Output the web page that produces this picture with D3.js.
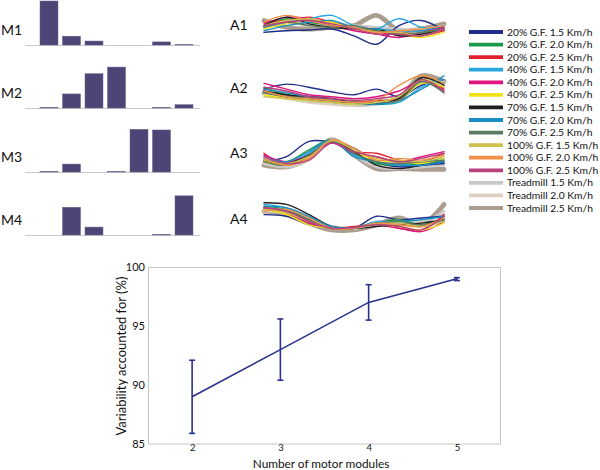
<!DOCTYPE html>
<html><head><meta charset="utf-8">
<script src="https://cdn.jsdelivr.net/npm/d3@7"></script>
<style>body{margin:0;background:#fff} text{font-family:Lato,"Open Sans",sans-serif;fill:#111}</style>
</head><body><svg id="c" width="600" height="470"></svg>
<script>
// ---------- data ----------
const moduleNames = ["M1","M2","M3","M4"];
const barSlots = [1,2,3,4,5,6,7];
const M1 = [1.00, 0.20, 0.09, 0.00, 0.00, 0.07, 0.01];
const M2 = [0.01, 0.32, 0.78, 0.93, 0.00, 0.01, 0.075];
const M3 = [0.01, 0.18, 0.00, 0.01, 0.97, 0.955, 0.00];
const M4 = [0.00, 0.63, 0.18, 0.00, 0.00, 0.01, 0.89];

const activationNames = ["A1","A2","A3","A4"];
const cyclePct = [0,12.5,25,37.5,50,62.5,75,87.5,100];
const conditions = ["20% G.F. 1.5 Km/h","20% G.F. 2.0 Km/h","20% G.F. 2.5 Km/h","40% G.F. 1.5 Km/h","40% G.F. 2.0 Km/h","40% G.F. 2.5 Km/h","70% G.F. 1.5 Km/h","70% G.F. 2.0 Km/h","70% G.F. 2.5 Km/h","100% G.F. 1.5 Km/h","100% G.F. 2.0 Km/h","100% G.F. 2.5 Km/h","Treadmill 1.5 Km/h","Treadmill 2.0 Km/h","Treadmill 2.5 Km/h"];
const conditionColors = ["#1f2d8a","#1a9a4a","#e3202c","#29a8e0","#e0157f","#f3e21c","#231f20","#1b8fc4","#5b7b5f","#cdc24c","#f0914a","#b6437e","#c9c9c9","#ddd0c0","#ab9e8f"];

const A1 = [
 [0.40,0.45,0.47,0.50,0.30,0.05,0.60,0.75,0.45],
 [0.60,0.80,0.70,0.60,0.50,0.45,0.40,0.35,0.50],
 [0.70,0.75,0.85,0.70,0.55,0.35,0.40,0.30,0.45],
 [0.55,0.70,0.80,0.90,0.60,0.50,0.80,0.55,0.50],
 [0.65,0.85,0.80,0.60,0.45,0.35,0.25,0.40,0.55],
 [0.50,0.65,0.75,0.70,0.50,0.45,0.35,0.25,0.40],
 [0.60,0.85,0.65,0.55,0.50,0.50,0.30,0.35,0.50],
 [0.45,0.60,0.70,0.75,0.55,0.50,0.45,0.45,0.60],
 [0.55,0.70,0.60,0.55,0.60,0.45,0.35,0.40,0.50],
 [0.60,0.75,0.80,0.65,0.50,0.40,0.40,0.30,0.50],
 [0.70,0.90,0.75,0.60,0.55,0.40,0.45,0.50,0.60],
 [0.60,0.70,0.75,0.65,0.50,0.35,0.35,0.30,0.50],
 [0.55,0.75,0.60,0.65,0.60,0.55,0.50,0.45,0.60],
 [0.60,0.80,0.70,0.60,0.55,0.50,0.45,0.50,0.55],
 [0.75,0.55,0.50,0.55,0.60,0.90,0.45,0.50,0.65]
];
const A2 = [
 [0.55,0.68,0.60,0.48,0.40,0.55,0.35,0.65,0.80],
 [0.60,0.40,0.30,0.25,0.20,0.20,0.35,0.85,0.70],
 [0.50,0.35,0.30,0.20,0.20,0.25,0.30,0.80,0.55],
 [0.45,0.35,0.25,0.20,0.15,0.15,0.20,0.60,0.80],
 [0.70,0.55,0.40,0.35,0.30,0.35,0.50,0.75,0.50],
 [0.40,0.30,0.25,0.20,0.15,0.20,0.25,0.70,0.60],
 [0.50,0.40,0.35,0.30,0.20,0.15,0.30,0.85,0.65],
 [0.55,0.45,0.35,0.25,0.20,0.15,0.25,0.55,0.90],
 [0.45,0.35,0.30,0.25,0.20,0.20,0.25,0.75,0.45],
 [0.35,0.30,0.25,0.20,0.15,0.20,0.35,0.80,0.60],
 [0.50,0.35,0.30,0.25,0.20,0.25,0.65,0.90,0.70],
 [0.60,0.50,0.35,0.30,0.25,0.30,0.40,0.80,0.50],
 [0.55,0.45,0.35,0.30,0.25,0.25,0.30,0.70,0.75],
 [0.40,0.30,0.20,0.15,0.12,0.15,0.25,0.75,0.70],
 [0.45,0.35,0.25,0.20,0.15,0.18,0.30,0.90,0.75]
];
const A3 = [
 [0.30,0.45,0.90,0.88,0.70,0.30,0.15,0.20,0.25],
 [0.35,0.30,0.65,0.95,0.55,0.25,0.20,0.25,0.35],
 [0.55,0.20,0.45,0.90,0.60,0.55,0.35,0.30,0.55],
 [0.40,0.25,0.55,0.90,0.50,0.30,0.20,0.30,0.40],
 [0.50,0.30,0.50,0.85,0.55,0.45,0.30,0.45,0.60],
 [0.30,0.20,0.40,0.95,0.60,0.35,0.30,0.25,0.40],
 [0.35,0.25,0.50,0.90,0.60,0.20,0.10,0.20,0.30],
 [0.45,0.30,0.60,0.95,0.45,0.30,0.20,0.20,0.30],
 [0.30,0.20,0.50,0.90,0.55,0.30,0.25,0.30,0.35],
 [0.35,0.25,0.45,0.92,0.65,0.40,0.35,0.30,0.45],
 [0.40,0.20,0.40,0.95,0.70,0.35,0.40,0.35,0.50],
 [0.45,0.25,0.35,0.85,0.60,0.45,0.30,0.40,0.55],
 [0.30,0.15,0.40,0.95,0.50,0.15,0.10,0.15,0.20],
 [0.25,0.15,0.35,0.90,0.55,0.20,0.15,0.15,0.25],
 [0.20,0.15,0.40,0.95,0.50,0.10,0.10,0.08,0.08]
];
const A4 = [
 [0.60,0.55,0.30,0.20,0.20,0.55,0.45,0.50,0.55],
 [0.85,0.75,0.45,0.20,0.20,0.35,0.45,0.30,0.50],
 [0.80,0.70,0.40,0.20,0.25,0.30,0.20,0.15,0.60],
 [0.90,0.80,0.50,0.25,0.20,0.40,0.35,0.25,0.45],
 [0.80,0.65,0.35,0.20,0.20,0.30,0.20,0.10,0.40],
 [0.75,0.60,0.30,0.20,0.20,0.30,0.25,0.15,0.35],
 [0.95,0.90,0.60,0.25,0.20,0.25,0.30,0.35,0.45],
 [0.85,0.80,0.55,0.25,0.20,0.30,0.40,0.45,0.55],
 [0.80,0.70,0.45,0.20,0.22,0.35,0.40,0.30,0.45],
 [0.75,0.65,0.40,0.20,0.20,0.30,0.35,0.25,0.40],
 [0.70,0.75,0.50,0.20,0.20,0.35,0.30,0.25,0.50],
 [0.80,0.70,0.40,0.20,0.22,0.30,0.25,0.15,0.55],
 [0.75,0.70,0.50,0.25,0.20,0.35,0.40,0.35,0.70],
 [0.70,0.65,0.45,0.25,0.20,0.30,0.35,0.40,0.60],
 [0.70,0.60,0.35,0.15,0.15,0.30,0.50,0.30,0.90]
];

const modules = [2,3,4,5];
const vafMean = [89.0, 93.0, 97.0, 99.0];
const vafLow  = [85.9, 90.4, 95.5, 98.85];
const vafHigh = [92.1, 95.6, 98.5, 99.1];
const vafTicks = [85,90,95,100];

// ---------- drawing ----------
const svg = d3.select("#c");

// Module weight bars
const barSets = [M1,M2,M3,M4];
const barBase = [45,108,172,235];
const xBar = d3.scaleBand().domain(barSlots).range([37.75,195.25]).paddingInner(0.2).paddingOuter(0.1);
barSets.forEach((vals,k)=>{
  const yB = d3.scaleLinear().domain([0,1]).range([barBase[k], barBase[k]-44]);
  const g = svg.append("g");
  g.append("line").attr("x1",25).attr("x2",200).attr("y1",barBase[k]+0.5).attr("y2",barBase[k]+0.5)
    .attr("stroke","#c8c8c8").attr("stroke-width",1);
  g.selectAll("rect").data(vals).join("rect")
    .attr("x",(d,i)=>xBar(barSlots[i])).attr("width",xBar.bandwidth())
    .attr("y",d=>yB(d)).attr("height",d=>yB(0)-yB(d))
    .attr("fill","#4d4575").attr("stroke",d=>d>0?"#6a6390":"none").attr("stroke-width",0.5);
  g.append("text").attr("x",1).attr("y",barBase[k]-15).attr("dy","0.35em")
    .style("font-size","14px").text(moduleNames[k]);
});

// Activation curves
const actSets = [A1,A2,A3,A4];
const actTop = [12,72,138,201], actBot=[46,110,172,235], actLabelY=[25,88,153,219];
const xA = d3.scaleLinear().domain([0,100]).range([264,444]);
const widthOf = i => i===14?4.8:(i>=12?2.8:1.4);
actSets.forEach((curves,k)=>{
  const yA = d3.scaleLinear().domain([0,1]).range([actBot[k],actTop[k]]);
  const line = d3.line().x((d,i)=>xA(cyclePct[i])).y(d=>yA(d)).curve(d3.curveCatmullRom.alpha(0.5));
  const g = svg.append("g");
  const drawOrder = [14,13,12,0,1,2,3,4,5,6,7,8,9,10,11];
  g.selectAll("path").data(drawOrder).join("path")
    .attr("d",i=>line(curves[i])).attr("fill","none")
    .attr("stroke",i=>conditionColors[i]).attr("stroke-width",i=>widthOf(i))
    .attr("stroke-linecap","round");
  g.append("text").attr("x",230).attr("y",actLabelY[k]).attr("dy","0.35em")
    .style("font-size","14px").text(activationNames[k]);
});

// Legend
const yLeg = d3.scalePoint().domain(conditions).range([32,208]);
const lg = svg.append("g");
conditions.forEach((c,i)=>{
  lg.append("line").attr("x1",469).attr("x2",503).attr("y1",yLeg(c)).attr("y2",yLeg(c))
    .attr("stroke",conditionColors[i]).attr("stroke-width",3.8);
  lg.append("text").attr("x",507).attr("y",yLeg(c)).attr("dy","0.35em")
    .style("font-size","10.3px").text(c);
});

// VAF chart
const xV = d3.scaleLinear().domain([1.5,5.5]).range([148,501]);
const yV = d3.scaleLinear().domain([85,100]).range([444,267]);
const vg = svg.append("g");
vg.append("rect").attr("x",148.5).attr("y",267.5).attr("width",352).attr("height",176.5)
  .attr("fill","none").attr("stroke","#c4c4c4").attr("stroke-width",1);
const axL = vg.append("g").attr("transform","translate(148,0)")
  .call(d3.axisLeft(yV).tickValues(vafTicks).tickSize(0).tickPadding(3));
axL.select(".domain").remove();
axL.selectAll("text").style("font-size","11px").style("font-family","Lato,sans-serif").attr("fill","#222");
const axB = vg.append("g").attr("transform","translate(0,444)")
  .call(d3.axisBottom(xV).tickValues(modules).tickFormat(d3.format("d")).tickSize(0).tickPadding(0));
axB.select(".domain").remove();
axB.selectAll("text").style("font-size","9.5px").style("font-family","Lato,sans-serif").attr("fill","#222");

const navy = "#28328c";
const pts = modules.map((m,i)=>({m, v:vafMean[i], lo:vafLow[i], hi:vafHigh[i]}));
vg.append("path").datum(pts).attr("fill","none").attr("stroke",navy).attr("stroke-width",1.6)
  .attr("d",d3.line().x(d=>xV(d.m)).y(d=>yV(d.v)));
const eb = vg.selectAll("g.eb").data(pts).join("g").attr("class","eb");
eb.append("line").attr("x1",d=>xV(d.m)).attr("x2",d=>xV(d.m)).attr("y1",d=>yV(d.lo)).attr("y2",d=>yV(d.hi))
  .attr("stroke",navy).attr("stroke-width",1.6);
eb.append("line").attr("x1",d=>xV(d.m)-3).attr("x2",d=>xV(d.m)+3).attr("y1",d=>yV(d.lo)).attr("y2",d=>yV(d.lo))
  .attr("stroke",navy).attr("stroke-width",1.6);
eb.append("line").attr("x1",d=>xV(d.m)-3).attr("x2",d=>xV(d.m)+3).attr("y1",d=>yV(d.hi)).attr("y2",d=>yV(d.hi))
  .attr("stroke",navy).attr("stroke-width",1.6);

vg.append("text").attr("x",321).attr("y",463.5).attr("dy","0.35em").attr("text-anchor","middle")
  .style("font-size","11.8px").text("Number of motor modules");
vg.append("text").attr("transform","translate(121,356) rotate(-90)").attr("dy","0.35em").attr("text-anchor","middle")
  .style("font-size","13px").text("Variability accounted for (%)");
</script></body></html>
